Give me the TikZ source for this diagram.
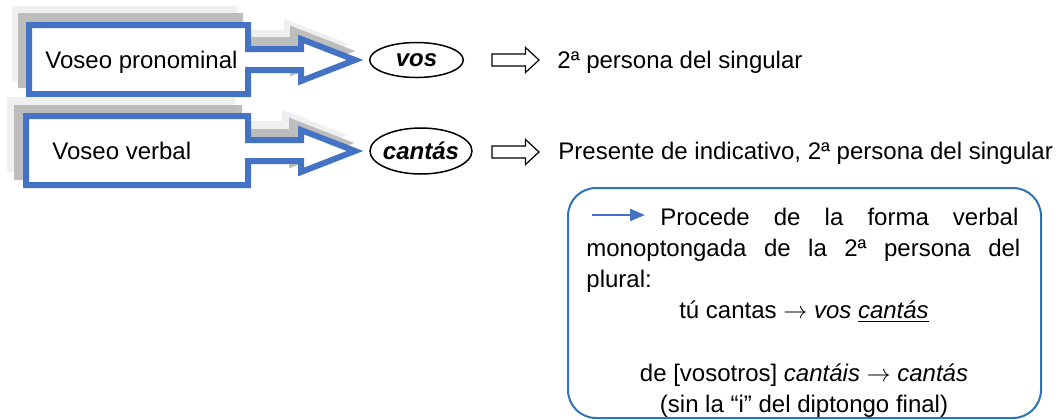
\documentclass[tikz,border=0pt]{standalone}
\usepackage{fontspec}
\setmainfont{Liberation Sans}
\usetikzlibrary{shapes.geometric,arrows.meta}
\definecolor{wordblue}{HTML}{4472C4}
\definecolor{boxblue}{HTML}{2E74B5}
\definecolor{shadelight}{HTML}{EFEFEF}
\definecolor{shadedark}{HTML}{BDBDBD}
\newcommand{\thinarrow}{\ensuremath{\rightarrow}}
\tikzset{
  pics/voseo/.style={code={
    \path[pic actions] (0,0) -- (#1,0) -- (#1,24) -- ({#1+53},24) -- ({#1+53},14)
      -- ({#1+107},35) -- ({#1+53},56) -- ({#1+53},45) -- (#1,45) -- (#1,69) -- (0,69) -- cycle;
  }},
  blueshape/.style={draw=wordblue, line width=3pt, fill=white, line join=miter, miter limit=10},
  shadowdark/.style={draw=shadedark, fill=shadedark, line width=3pt},
  shadowlight/.style={draw=shadelight, fill=shadelight, line width=3pt},
  txt/.style={font=\fontsize{12pt}{14.4pt}\selectfont, inner sep=0pt},
  boldtxt/.style={font=\fontsize{12pt}{14.4pt}\selectfont\bfseries\itshape, inner sep=0pt},
  ovalline/.style={draw=black, line width=0.75pt},
  hollow/.style={draw=black, line width=0.6pt, fill=white},
  notebox/.style={draw=boxblue, line width=1pt, rounded corners=14pt, inner sep=0pt},
  smallarrow/.style={wordblue, line width=1pt, -{Triangle[length=7.5pt,width=6pt]}}
}
\begin{document}
\begin{tikzpicture}[x=0.5pt,y=-0.5pt]
\useasboundingbox (0,0) rectangle (1060,419);
% first shape
\pic[shadowlight] at (15,9) {voseo=219};
\pic[shadowdark] at (21,16) {voseo=219};
\pic[blueshape] at (29,25) {voseo=219};
\node[txt, anchor=base west] (vp) at (45,68.5) {Voseo pronominal};
% second shape
\pic[shadowlight] at (10,100) {voseo=222};
\pic[shadowdark] at (17,108) {voseo=222};
\pic[blueshape] at (26,116) {voseo=222};
\node[txt, anchor=base west] (vv) at (52,159.5) {Voseo verbal};
% ellipses
\node[boldtxt] (vos) at (416.5,60) {vos};
\draw[ovalline] (463.3,60) .. controls (463.3,69.67) and (442.35,77.5) .. (416.5,77.5)
  .. controls (390.65,77.5) and (369.7,69.67) .. (369.7,60)
  .. controls (369.7,50.33) and (390.65,42.5) .. (416.5,42.5)
  .. controls (442.35,42.5) and (463.3,50.33) .. (463.3,60) -- cycle;
\node[boldtxt] (cantas) at (421,151) {cantás};
\draw[ovalline] (472,151) .. controls (472,163.7) and (449.17,174) .. (421,174)
  .. controls (392.83,174) and (370,163.7) .. (370,151)
  .. controls (370,138.3) and (392.83,128) .. (421,128)
  .. controls (449.17,128) and (472,138.3) .. (472,151) -- cycle;
% hollow arrows
\draw[hollow] (492,54) -- (525.5,54) -- (525.5,47.5) -- (539,60) -- (525.5,72.5) -- (525.5,66) -- (492,66) -- cycle;
\draw[hollow] (492,146) -- (525.5,146) -- (525.5,139.5) -- (539,152) -- (525.5,164.5) -- (525.5,158) -- (492,158) -- cycle;
% right texts
\node[txt, anchor=base west] (t1) at (557,68.5) {2ª persona del singular};
\node[txt, anchor=base west] (t2) at (558,159.5) {Presente de indicativo, 2ª persona del singular};
% note box
\node[notebox, minimum width=236.5pt, minimum height=115pt] (note) at (804.5,303) {};
\coordinate (as) at (592,215);
\coordinate (ae) at (645,215);
\draw[smallarrow] (as) -- (ae);
\node[txt, anchor=base west] (l1) at (660,225) {\makebox[179pt][s]{Procede de la forma verbal}};
\node[txt, anchor=base west] (l2) at (586,256) {\makebox[217pt][s]{monoptongada de la 2ª persona del}};
\node[txt, anchor=base west] (l3) at (586,287) {plural:};
\node[txt, anchor=base] (l4) at (804,318) {tú cantas \thinarrow{} \textit{vos \underline{cantás}}};
\node[txt, anchor=base] (l5) at (804,381) {de [vosotros] \textit{cantáis} \thinarrow{} \textit{cantás}};
\node[txt, anchor=base] (l6) at (804,412) {(sin la “i” del diptongo final)};
\end{tikzpicture}
\end{document}
